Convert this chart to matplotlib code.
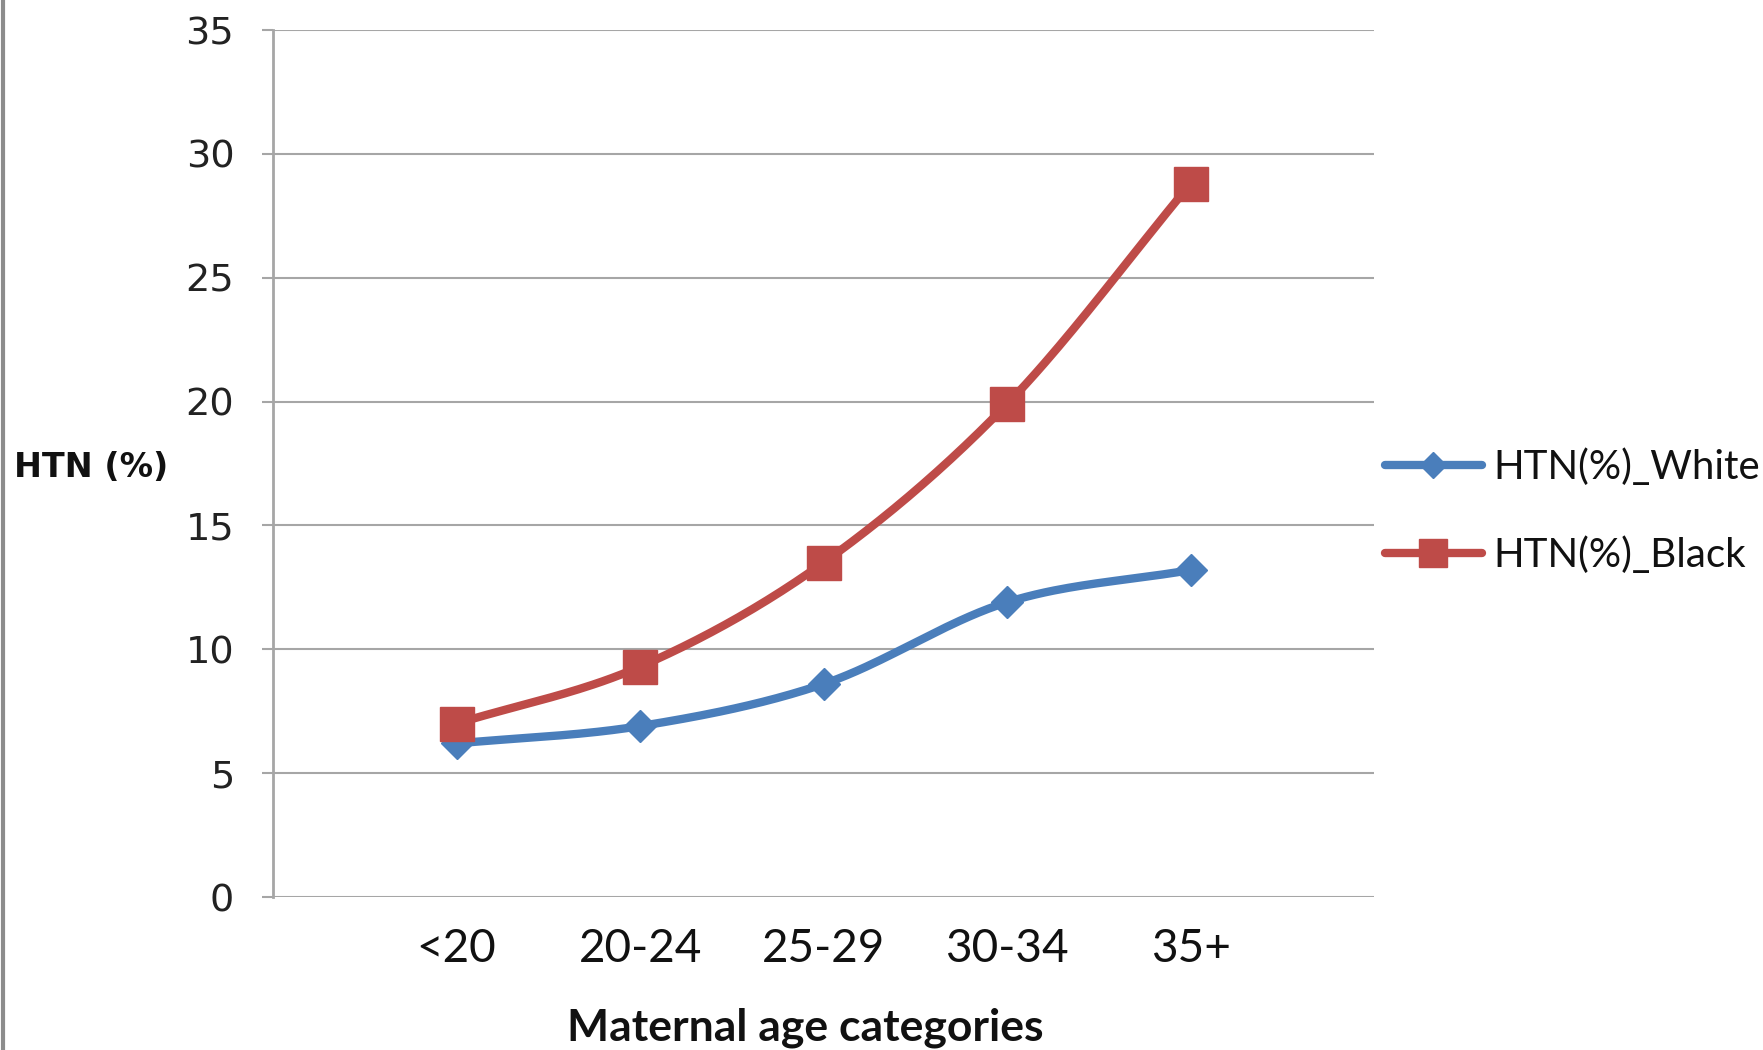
import numpy as np
import matplotlib.pyplot as plt
from matplotlib.lines import Line2D

# Hypertension prevalence by maternal age group
age_groups = ["<20", "20-24", "25-29", "30-34", "35+"]
htn_white = [6.2, 6.9, 8.6, 11.9, 13.2]
htn_black = [7.0, 9.3, 13.5, 19.9, 28.8]
y_ticks = [0, 5, 10, 15, 20, 25, 30, 35]

BLUE = "#4a7ebb"
RED = "#be4b48"
GRID = "#a6a6a6"


def smooth(x, y, n=40):
    # Catmull-Rom curve through the points, like a spreadsheet "smoothed line"
    x = np.asarray(x, float)
    y = np.asarray(y, float)
    px = np.concatenate([[2 * x[0] - x[1]], x, [2 * x[-1] - x[-2]]])
    py = np.concatenate([[2 * y[0] - y[1]], y, [2 * y[-1] - y[-2]]])
    xs, ys = [], []
    t = np.linspace(0, 1, n)
    for i in range(1, len(px) - 2):
        for p, out in ((px, xs), (py, ys)):
            p0, p1, p2, p3 = p[i - 1], p[i], p[i + 1], p[i + 2]
            out.extend(0.5 * (2 * p1 + (-p0 + p2) * t
                              + (2 * p0 - 5 * p1 + 4 * p2 - p3) * t ** 2
                              + (-p0 + 3 * p1 - 3 * p2 + p3) * t ** 3))
    return np.array(xs), np.array(ys)


fig = plt.figure(figsize=(17.63, 10.5), dpi=100)
ax = fig.add_axes([0.1549, 0.1457, 0.6245, 0.8257])

x = np.arange(1, len(age_groups) + 1)

for vals, color, marker, ms in ((htn_white, BLUE, "D", 16),
                                (htn_black, RED, "s", 24)):
    sx, sy = smooth(x, vals)
    ax.plot(sx, sy, color=color, lw=6, solid_capstyle="round", zorder=3)
    ax.plot(x, vals, ls="none", marker=marker, ms=ms, color=color,
            mec=color, zorder=4)

ax.set_xlim(0, len(age_groups) + 1)
ax.set_ylim(0, 35)
ax.set_yticks(y_ticks)
ax.set_yticklabels([str(v) for v in y_ticks], fontfamily="DejaVu Sans",
                   fontsize=27.5, color="#222222")
ax.set_xticks(x)
ax.set_xticklabels(age_groups, fontfamily="Lato", fontsize=33, color="#111111")

ax.grid(axis="y", color=GRID, lw=1.5)
ax.set_axisbelow(True)
for side in ("top", "right", "bottom"):
    ax.spines[side].set_visible(False)
ax.spines["left"].set_color(GRID)
ax.spines["left"].set_linewidth(2)
ax.tick_params(axis="y", length=8, width=1.5, color=GRID, pad=20)
ax.tick_params(axis="x", length=0, pad=22)

fig.text(0.008, 0.555, "HTN (%)", fontfamily="DejaVu Sans", fontweight="bold",
         fontsize=24, ha="left", va="center", color="#111111")
fig.text(0.457, 0.021, "Maternal age categories", fontfamily="Lato",
         fontweight="bold", fontsize=32, ha="center", va="center",
         color="#111111")

handles = [Line2D([], [], color=BLUE, lw=6, marker="D", ms=13,
                  solid_capstyle="round"),
           Line2D([], [], color=RED, lw=6, marker="s", ms=20,
                  solid_capstyle="round")]
leg = ax.legend(handles, ["HTN(%)_White", "HTN(%)_Black"],
                loc="center left", bbox_to_anchor=(0.7856, 0.513),
                bbox_transform=fig.transFigure, frameon=False,
                prop={"family": "Lato", "size": 29}, handlelength=2.4,
                handletextpad=0.3, labelspacing=1.25, borderpad=0,
                borderaxespad=0)
for t in leg.get_texts():
    t.set_color("#111111")

# grey rule along the left edge of the figure
fig.add_artist(Line2D([0.0015, 0.0015], [0, 1], transform=fig.transFigure,
                      color="#8c8c8c", lw=3))

fig.savefig("out.png", dpi=100)
